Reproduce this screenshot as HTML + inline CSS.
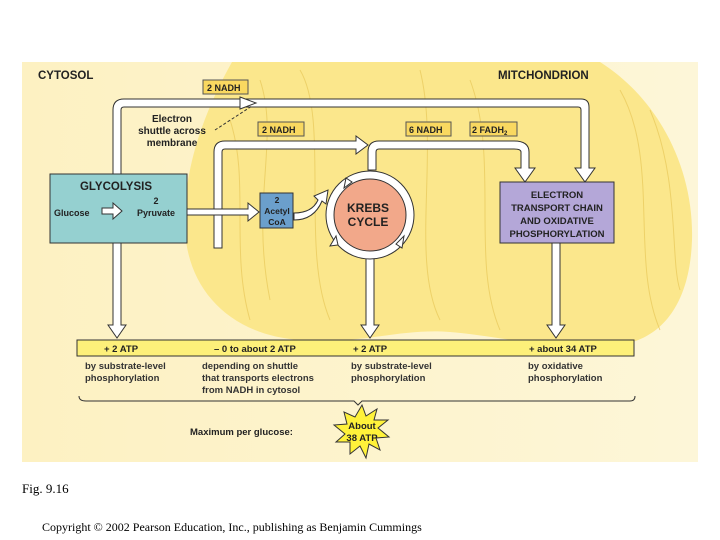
<!DOCTYPE html>
<html><head><style>body{margin:0;background:#fff}svg{display:block}</style></head><body>
<svg width="720" height="540" viewBox="0 0 720 540" font-family="Liberation Sans, sans-serif">
<defs><linearGradient id="bg" x1="0" x2="1"><stop offset="0" stop-color="#fdf1c2"/><stop offset="1" stop-color="#fdf6d8"/></linearGradient></defs>
<rect x="22" y="62" width="676" height="400" fill="url(#bg)"/>
<path d="M232 62 C205 110 182 170 185 230 C188 290 230 335 300 340 C360 345 400 328 450 332 C500 336 560 352 620 345 C665 338 690 300 692 240 C694 170 660 100 600 62 Z" fill="#fbe78c"/>
<g fill="none" stroke="#e8c85a" stroke-width="1" opacity="0.7">
<path d="M260 80 C280 140 250 200 270 300"/><path d="M300 70 C330 120 300 250 330 320"/><path d="M420 70 C440 150 410 260 440 320"/><path d="M470 80 C500 160 470 260 500 330"/><path d="M620 90 C660 160 630 260 660 330"/><path d="M650 110 C680 180 670 260 680 290"/><path d="M230 120 C250 180 230 250 250 320"/>
</g>
<g stroke="#333" stroke-width="1" fill="#fff">
<path d="M113 175 L113 110 Q113 99 124 99 L581 99 Q589 99 589 107 L589 168 L595 168 L585 182 L575 168 L581 168 L581 110 Q581 107 578 107 L124 107 Q121 107 121 110 L121 175 Z"/>
<path d="M214 248 L214 152 Q214 141 225 141 L356 141 L356 136 L368 145 L356 154 L356 149 L225 149 Q222 149 222 152 L222 248 Z"/>
<path d="M368 170 L368 152 Q368 141 379 141 L514 141 Q529 141 529 152 L529 168 L535 168 L525 182 L515 168 L521 168 L521 152 Q521 149 514 149 L379 149 Q376 149 376 152 L376 170 Z"/>
<path d="M187 209 L248 209 L248 203 L259 212 L248 221 L248 215 L187 215 Z"/>
<path d="M240 103 L240 97 L256 103 L240 109 Z" />
<path d="M113 243 L113 325 L108 325 L117 338 L126 325 L121 325 L121 243 Z"/>
<path d="M366 257 L366 325 L361 325 L370 338 L379 325 L374 325 L374 257 Z"/>
<path d="M552 243 L552 325 L547 325 L556 338 L565 325 L560 325 L560 243 Z"/>
</g>
<rect x="50" y="174" width="137" height="69" fill="#95d0d0" stroke="#333"/>
<text x="116" y="190" font-size="11.5" font-weight="bold" text-anchor="middle" fill="#222">GLYCOLYSIS</text>
<text x="54" y="216" font-size="9" font-weight="bold" fill="#222">Glucose</text>
<path d="M102 208 L113 208 L113 203 L122 211 L113 219 L113 214 L102 214 Z" fill="#fff" stroke="#333"/>
<text x="156" y="204" font-size="9" font-weight="bold" text-anchor="middle" fill="#222">2</text>
<text x="156" y="216" font-size="9" font-weight="bold" text-anchor="middle" fill="#222">Pyruvate</text>
<rect x="260" y="193" width="33" height="35" fill="#6b9fcc" stroke="#333"/>
<g font-size="8.5" font-weight="bold" text-anchor="middle" fill="#222"><text x="277" y="203">2</text><text x="277" y="214">Acetyl</text><text x="277" y="225">CoA</text></g>
<circle cx="370" cy="215" r="44" fill="#fff" stroke="#333"/>
<circle cx="370" cy="215" r="36" fill="#f2a88a" stroke="#333"/>
<path d="M344 188 L352 182 L346 178 Z M404 236 L396 244 L402 248 Z M336 236 L330 246 L338 245 Z" fill="#fff" stroke="#333"/>
<path d="M294 213 Q312 213 318 200 L314 196 L328 190 L326 204 L322 201 Q314 220 294 220 Z" fill="#fff" stroke="#333"/>
<text x="368" y="212" font-size="12" font-weight="bold" text-anchor="middle" fill="#222">KREBS</text>
<text x="368" y="226" font-size="12" font-weight="bold" text-anchor="middle" fill="#222">CYCLE</text>
<rect x="500" y="182" width="114" height="61" fill="#b4a7d8" stroke="#333"/>
<g font-size="9.5" font-weight="bold" text-anchor="middle" fill="#222"><text x="557" y="198">ELECTRON</text><text x="557" y="211">TRANSPORT CHAIN</text><text x="557" y="224">AND OXIDATIVE</text><text x="557" y="237">PHOSPHORYLATION</text></g>
<g font-size="9" font-weight="bold" fill="#222">
<rect x="203" y="80" width="45" height="14" fill="#f9d860" stroke="#555"/><text x="207" y="91">2 NADH</text>
<rect x="258" y="122" width="46" height="14" fill="#f9d860" stroke="#555"/><text x="262" y="133">2 NADH</text>
<rect x="406" y="122" width="45" height="14" fill="#f9d860" stroke="#555"/><text x="409" y="133">6 NADH</text>
<rect x="470" y="122" width="47" height="14" fill="#f9d860" stroke="#555"/><text x="472" y="133">2 FADH<tspan font-size="6" dy="2">2</tspan></text>
</g>
<g font-size="10" font-weight="bold" text-anchor="middle" fill="#222"><text x="172" y="122">Electron</text><text x="172" y="134">shuttle across</text><text x="172" y="146">membrane</text></g>
<path d="M215 130 L252 106" stroke="#333" stroke-dasharray="3,2" fill="none"/>
<text x="38" y="79" font-size="11.5" font-weight="bold" fill="#222">CYTOSOL</text>
<text x="498" y="79" font-size="11.5" font-weight="bold" fill="#222">MITCHONDRION</text>
<rect x="77" y="340" width="557" height="16" fill="#fdf07a" stroke="#333"/>
<g font-size="9.5" font-weight="bold" fill="#222">
<text x="104" y="352">+ 2 ATP</text><text x="214" y="352">– 0 to about 2 ATP</text><text x="353" y="352">+ 2 ATP</text><text x="529" y="352">+ about 34 ATP</text>
</g>
<g font-size="9.5" font-weight="bold" fill="#333">
<text x="85" y="369">by substrate-level</text><text x="85" y="381">phosphorylation</text>
<text x="202" y="369">depending on shuttle</text><text x="202" y="381">that transports electrons</text><text x="202" y="393">from NADH in cytosol</text>
<text x="351" y="369">by substrate-level</text><text x="351" y="381">phosphorylation</text>
<text x="528" y="369">by oxidative</text><text x="528" y="381">phosphorylation</text>
</g>
<path d="M79 396 Q79 401 86 401 L354 401 L358 405 L362 401 L630 401 Q635 401 635 396" fill="none" stroke="#333"/>
<text x="190" y="435" font-size="9.5" font-weight="bold" fill="#222">Maximum per glucose:</text>
<polygon points="362,405 366,416 377,409 374,420 388,420 378,428 389,437 376,438 380,450 369,444 366,458 360,446 350,454 350,442 336,442 345,434 334,425 347,424 344,412 355,417" fill="#fff23a" stroke="#333"/>
<text x="362" y="429" font-size="9.5" font-weight="bold" text-anchor="middle" fill="#222">About</text>
<text x="362" y="441" font-size="9.5" font-weight="bold" text-anchor="middle" fill="#222">38 ATP</text>
<text x="22" y="493" font-size="13" font-family="Liberation Serif, serif" fill="#000">Fig. 9.16</text>
<text x="42" y="531" font-size="12" font-family="Liberation Serif, serif" fill="#000">Copyright © 2002 Pearson Education, Inc., publishing as Benjamin Cummings</text>
</svg>
</body></html>
